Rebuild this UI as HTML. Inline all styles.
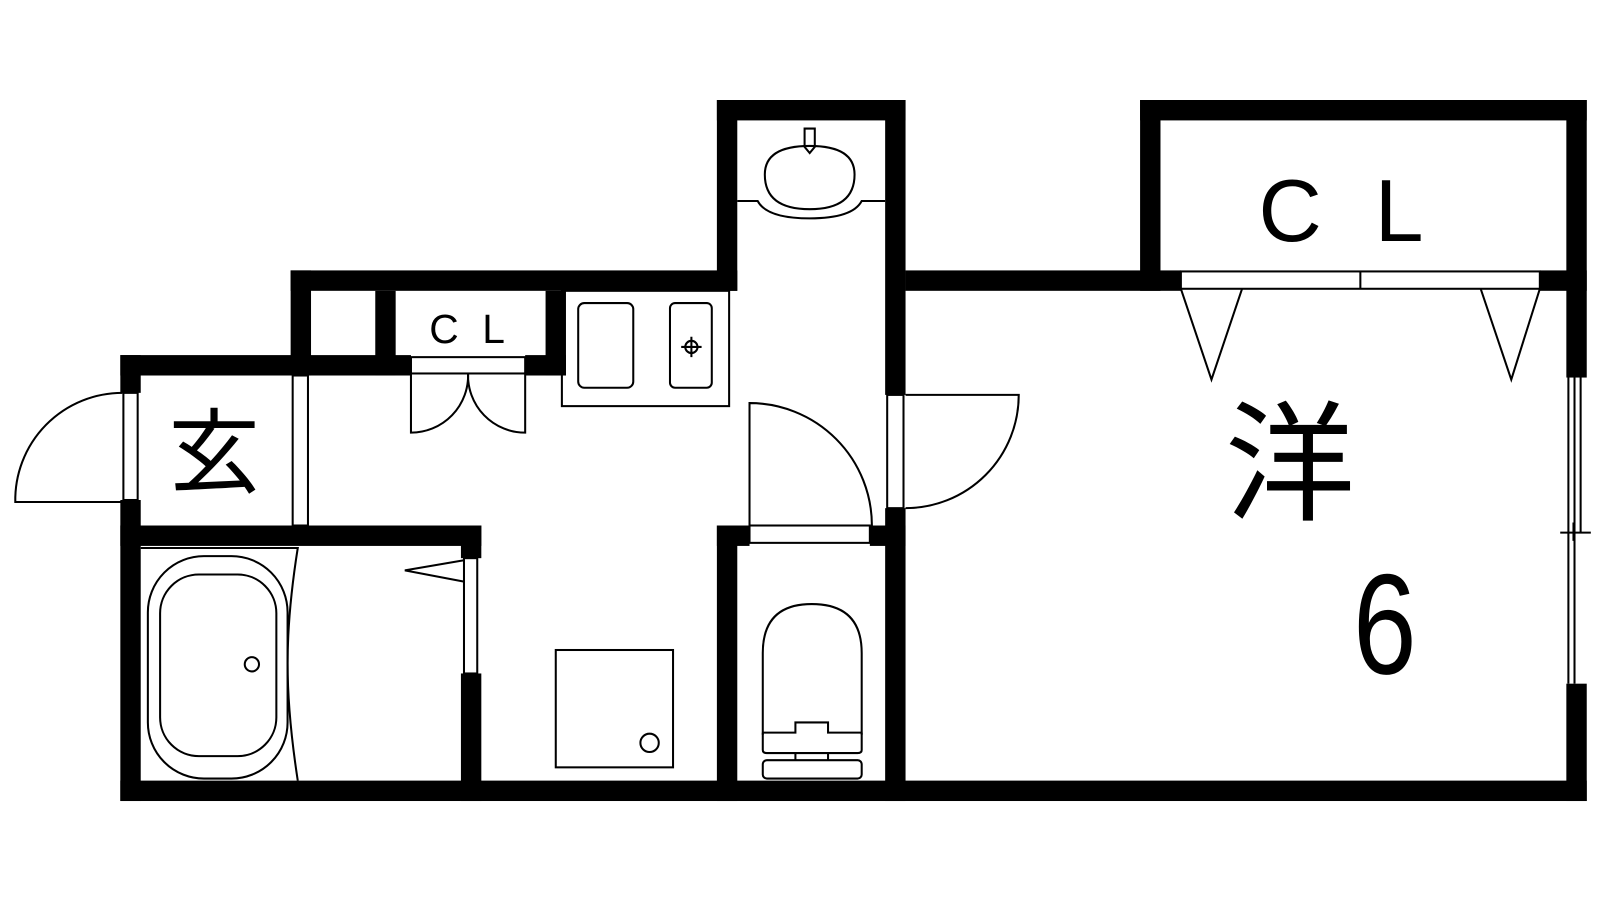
<!DOCTYPE html>
<html><head><meta charset="utf-8"><style>
html,body{margin:0;padding:0;background:#fff;width:1600px;height:900px;overflow:hidden}
svg{display:block}
text{font-family:"Liberation Sans","Noto Sans CJK JP",sans-serif;fill:#000}
</style></head><body>
<svg width="1600" height="900" viewBox="0 0 1569 882" preserveAspectRatio="none" xmlns="http://www.w3.org/2000/svg">
<g fill="#000">
<rect x="118" y="765" width="1438" height="20"/>
<rect x="118" y="348" width="20" height="37"/>
<rect x="118" y="490" width="20" height="295"/>
<rect x="118" y="348" width="187" height="20"/>
<rect x="285" y="265" width="438" height="20"/>
<rect x="285" y="265" width="20" height="103"/>
<rect x="368" y="285" width="20" height="83"/>
<rect x="285" y="348" width="118" height="20"/>
<rect x="515" y="348" width="40" height="20"/>
<rect x="535" y="285" width="20" height="83"/>
<rect x="703" y="98" width="185" height="20"/>
<rect x="703" y="98" width="20" height="187"/>
<rect x="868" y="98" width="20" height="289"/>
<rect x="868" y="498" width="20" height="287"/>
<rect x="888" y="265" width="270" height="20"/>
<rect x="1510" y="265" width="46" height="20"/>
<rect x="1118" y="98" width="20" height="187"/>
<rect x="1118" y="98" width="438" height="20"/>
<rect x="1536" y="98" width="20" height="272"/>
<rect x="1536" y="670" width="20" height="115"/>
<rect x="118" y="515" width="354" height="20"/>
<rect x="452" y="515" width="20" height="32"/>
<rect x="452" y="660" width="20" height="125"/>
<rect x="703" y="515" width="32" height="20"/>
<rect x="853" y="515" width="35" height="20"/>
<rect x="703" y="515" width="20" height="270"/>
</g>
<g fill="none" stroke="#000" stroke-width="2">
<rect x="121" y="385" width="14" height="105"/>
<path d="M120 492 L15 492 A105 105 0 0 1 120 385"/>
<rect x="287" y="368" width="15" height="147"/>
<rect x="403" y="350" width="112" height="16"/>
<path d="M403 366 V424 A56 56 0 0 0 459 366"/>
<path d="M515 366 V424 A56 56 0 0 1 459 366"/>
<rect x="551" y="285" width="164" height="113"/>
<rect x="567" y="297" width="54" height="83" rx="6"/>
<rect x="657" y="297" width="41" height="83" rx="5"/>
<circle cx="678" cy="340" r="6"/>
<path d="M678 330V350M668 340H688"/>
<!-- washbasin -->
<path d="M723 197 H743 Q752 214 794 214 Q836 214 845 197 H868"/>
<path d="M750 171 Q750 143 794 143 Q838 143 838 171 Q838 205 794 205 Q750 205 750 171 Z"/>
<path d="M789 126 H799 V144 L794 150 L789 144 Z"/>
<rect x="735" y="515" width="118" height="17"/>
<path d="M735 515 V395 A120 120 0 0 1 855 515"/>
<rect x="870" y="387" width="16" height="111"/>
<path d="M888 387 H999 A111 111 0 0 1 888 498"/>
<rect x="1158" y="266" width="352" height="17"/>
<path d="M1334 266V283"/>
<path d="M1158 283 L1188 372 L1218 283"/>
<path d="M1452 283 L1482 372 L1510 283"/>
<path d="M1538 370V670M1544 370V670M1550 370V522M1530 522H1560M1543 512V530"/>
<path d="M138 537 H292 Q282 600 282 650 Q282 700 292 765"/>
<rect x="145" y="545" width="137" height="218" rx="55"/>
<rect x="157" y="563" width="114" height="178" rx="38"/>
<circle cx="247" cy="651" r="7"/>
<rect x="455" y="547" width="13" height="113"/>
<path d="M455 549 L397 559 L455 570"/>
<rect x="545" y="637" width="115" height="115"/>
<circle cx="637" cy="728" r="9"/>
<path d="M748 720 V640 Q748 592 796 592 Q845 592 845 640 V720"/>
<path d="M748 718 H780 V708 H812 V718 H845"/>
<path d="M748 718 V735 Q748 738 752 738 H841 Q845 738 845 735 V718"/>
<path d="M780 738 V745 M812 738 V745"/>
<rect x="748" y="745" width="97" height="18" rx="4"/>
</g>
<text x="210" y="476" font-size="90" text-anchor="middle">玄</text>
<text x="461" y="336" font-size="40" text-anchor="middle" letter-spacing="6">C L</text>
<text x="1322" y="236" font-size="86" text-anchor="middle" letter-spacing="14">C L</text>
<text x="1265" y="500" font-size="128" text-anchor="middle">洋</text>
<text x="1358" y="660" font-size="140" text-anchor="middle" transform="translate(1358 0) scale(0.8 1) translate(-1358 0)">6</text>
</svg>
</body></html>
